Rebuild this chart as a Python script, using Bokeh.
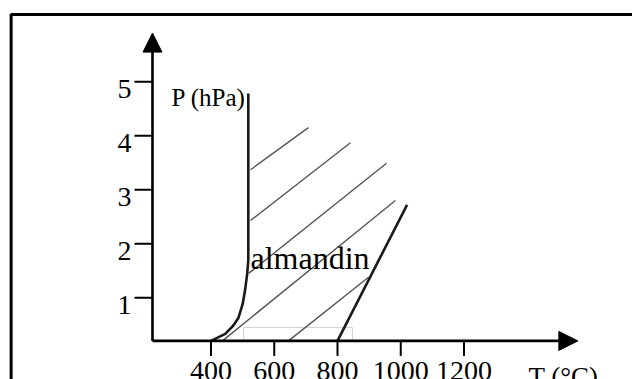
from bokeh.plotting import figure
from bokeh.models import Range1d, Arrow, NormalHead
from bokeh.core.properties import value
from bokeh.embed import file_html
from bokeh.resources import INLINE
import math

# ---- data (T in °C, P in hPa) ----
x_ticks = [400, 600, 800, 1000, 1200]
x_tick_labels = ["400", "600", "800", "1000", "1200"]
y_ticks = [1, 2, 3, 4, 5]
y_tick_labels = ["1", "2", "3", "4", "5"]

# left boundary of almandine field (curved then vertical)
left_T = [400, 445, 470, 487, 500, 508, 514, 518, 518]
left_P = [0.2, 0.33, 0.48, 0.63, 0.88, 1.15, 1.42, 1.7, 4.78]

# right boundary
right_T = [800, 1020]
right_P = [0.2, 2.72]

# hatch lines (start / end)
hatch_T0 = [525, 525, 519, 436, 645]
hatch_P0 = [3.37, 2.43, 1.45, 0.2, 0.2]
hatch_T1 = [708, 841, 955, 983, 898]
hatch_P1 = [4.15, 3.87, 3.49, 2.80, 1.38]

# faint box at the base
box_T = [503, 847]
box_P = [0.2, 0.45]

# axes origin and arrow ends
T0, P0 = 215, 0.2
T_end, P_end = 1560, 5.9

FONT = value("Liberation Serif")

p = figure(width=632, height=379, output_backend="svg", toolbar_location=None,
           x_range=Range1d(-265.6, 1732.8), y_range=Range1d(-0.515, 6.504),
           x_axis_location=None, y_axis_location=None, min_border=0)
p.grid.visible = False
p.outline_line_color = None
p.background_fill_color = "white"
p.border_fill_color = "white"

# outer frame (extends beyond right/bottom of the window)
p.quad(left=-232, right=1900, bottom=-1, top=6.244, fill_color=None,
       line_color="black", line_width=3)

# faint rectangle
p.quad(left=box_T[0], right=box_T[1], bottom=box_P[0], top=box_P[1],
       fill_color=None, line_color="#d0d0d0", line_width=1)

# hatch lines
p.segment(x0=hatch_T0, y0=hatch_P0, x1=hatch_T1, y1=hatch_P1,
          line_color="#555555", line_width=1.4)

# boundaries
p.line(left_T, left_P, line_color="#1a1a1a", line_width=2.6)
p.line(right_T, right_P, line_color="#1a1a1a", line_width=2.6)

# axes with arrows
p.add_layout(Arrow(end=NormalHead(size=19, fill_color="black", line_color="black"),
                   x_start=T0, y_start=P0, x_end=T0, y_end=P_end,
                   line_color="black", line_width=2.6))
p.add_layout(Arrow(end=NormalHead(size=19, fill_color="black", line_color="black"),
                   x_start=T0, y_start=P0, x_end=T_end, y_end=P0,
                   line_color="black", line_width=2.6))

# ticks
p.ray(x=[T0] * len(y_ticks), y=y_ticks, length=18, angle=math.pi,
      length_units="screen", line_color="black", line_width=2)
p.ray(x=x_ticks, y=[P0] * len(x_ticks), length=15, angle=-math.pi / 2,
      length_units="screen", line_color="black", line_width=2)

# tick labels
p.text(x=[T0] * len(y_ticks), y=y_ticks, text=y_tick_labels, text_font=FONT,
       text_font_size="28px", text_align="right", text_baseline="middle",
       x_offset=-21, y_offset=7, text_color="black")
p.text(x=x_ticks, y=[P0] * len(x_ticks), text=x_tick_labels, text_font=FONT,
       text_font_size="28px", text_align="center", text_baseline="top",
       y_offset=21, text_color="black")

# axis titles
p.text(x=[1404], y=[P0], text=["T (°C)"], text_font=FONT, text_font_size="27px",
       text_align="left", text_baseline="top", y_offset=21, text_color="black")
p.text(x=[275], y=[4.707], text=["P (hPa)"], text_font=FONT, text_font_size="25px",
       text_align="left", text_baseline="alphabetic", text_color="black")

# field label
p.text(x=[525], y=[1.726], text=["almandin"], text_font=FONT, text_font_size="32px",
       text_align="left", text_baseline="alphabetic", text_color="black")

open("out.html", "w").write(file_html(p, INLINE))
